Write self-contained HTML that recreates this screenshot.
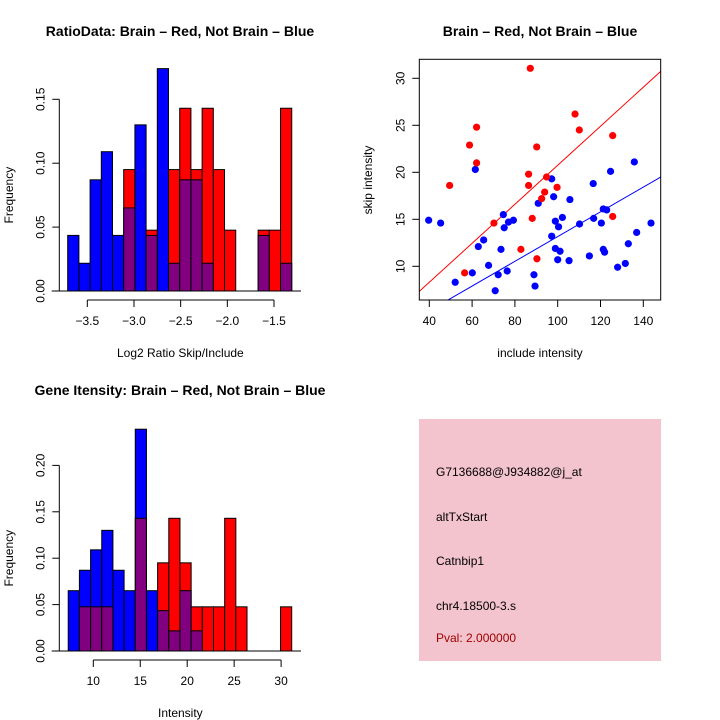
<!DOCTYPE html>
<html><head><meta charset="utf-8"><style>
body{margin:0;background:#fff}
svg{display:block;font-family:"Liberation Sans",sans-serif}
</style></head><body>
<svg id="s" width="720" height="720" viewBox="0 0 720 720">
<text x="180" y="36" text-anchor="middle" font-size="14" font-weight="bold">RatioData: Brain – Red, Not Brain – Blue</text>
<text x="540" y="36" text-anchor="middle" font-size="14" font-weight="bold">Brain – Red, Not Brain – Blue</text>
<text x="180" y="395" text-anchor="middle" font-size="14" font-weight="bold">Gene Itensity: Brain – Red, Not Brain – Blue</text>
<g id="h1"></g>
<g id="h2"></g>
<g id="sc"></g>
<g>
<rect x="419" y="419" width="242" height="242" fill="#f3c3ce"/>
<text x="436" y="476" font-size="12">G7136688@J934882@j_at</text>
<text x="436" y="521" font-size="12">altTxStart</text>
<text x="436" y="565" font-size="12">Catnbip1</text>
<text x="436" y="610" font-size="12">chr4.18500-3.s</text>
<text x="436" y="642" font-size="12" fill="#a00000">Pval: 2.000000</text>
</g>
</svg>
<script>
const NS="http://www.w3.org/2000/svg";
// Histogram 1 data
const h1Start=-3.71, h1Width=0.12;
const h1Blue=[0.0435,0.0217,0.087,0.109,0.0435,0.065,0.130,0.0435,0.174,0.0217,0.087,0.087,0.0217,0,0,0,0,0.0435,0,0.0217];
const h1Red=[0,0,0,0,0,0.095,0,0.0476,0,0.095,0.143,0.095,0.143,0.095,0.0476,0,0,0.0476,0.0476,0.143];
const h1XTicks=[-3.5,-3.0,-2.5,-2.0,-1.5];
const h1XLabels=["−3.5","−3.0","−2.5","−2.0","−1.5"];
const h1YTicks=[0,0.05,0.10,0.15];
const h1YLabels=["0.00","0.05","0.10","0.15"];
// Histogram 2 data
const h2Start=7.33, h2Width=1.19;
const h2Blue=[0.065,0.087,0.109,0.130,0.087,0.065,0.239,0.065,0.0435,0.0217,0.065,0.0217,0,0,0,0,0,0,0,0];
const h2Red=[0,0.0476,0.0476,0.0476,0,0,0.143,0,0.095,0.143,0.095,0.0476,0.0476,0.0476,0.143,0.0476,0,0,0,0.0476];
const h2XTicks=[10,15,20,25,30];
const h2XLabels=["10","15","20","25","30"];
const h2YTicks=[0,0.05,0.10,0.15,0.20];
const h2YLabels=["0.00","0.05","0.10","0.15","0.20"];
// Scatter data
const redX=[87.2,108.1,110.1,125.7,62.1,58.8,62.1,90.2,49.5,86.4,86.4,94.8,99.7,93.9,92.5,88.1,70.2,82.8,90.3,56.5,125.7];
const redY=[31.06,26.2,24.5,23.9,24.8,22.9,21.0,22.7,18.6,19.8,18.6,19.5,18.4,17.9,17.2,15.1,14.6,11.8,10.8,9.3,15.3];
const blueX=[39.7,45.3,52.1,60.1,61.5,62.9,65.4,67.7,70.8,72.2,73.5,74.6,75.0,76.4,77.0,79.3,88.9,89.4,90.9,97.2,97.2,98.1,98.9,98.9,100.4,100.0,101.1,102.2,105.3,105.7,110.2,114.8,116.6,116.8,120.4,121.3,121.3,121.9,122.9,124.7,128.0,131.6,133.0,135.8,136.9,143.6];
const blueY=[14.9,14.6,8.3,9.3,20.3,12.1,12.8,10.1,7.4,9.1,11.8,15.5,14.1,9.5,14.7,14.9,9.1,7.9,16.7,13.2,19.3,17.4,14.8,11.9,14.2,10.7,11.6,15.2,10.6,17.1,14.5,11.1,18.8,15.1,14.6,16.1,11.8,11.5,16.0,20.1,9.9,10.3,12.4,21.1,13.6,14.6];
const redSlope=0.2075, blueSlope=0.1316;
const scXTicks=[40,60,80,100,120,140];
const scYTicks=[10,15,20,25,30];

function el(parent,tag,attrs,txt){const e=document.createElementNS(NS,tag);for(const k in attrs)e.setAttribute(k,attrs[k]);if(txt!==undefined)e.textContent=txt;parent.appendChild(e);return e;}

function hist(gid,start,w,blue,red,xt,xl,yt,yl,xs,ys,xlab,yAxisX,xAxisY,baseL,baseR){
  const g=document.getElementById(gid);
  for(let i=0;i<blue.length;i++){
    const b=blue[i],r=red[i];
    const x0=xs(start+i*w),x1=xs(start+(i+1)*w);
    const hi=Math.max(b,r),lo=Math.min(b,r);
    if(hi>0){
      const r1=el(g,'rect',{x:x0,y:ys(hi),width:x1-x0,height:ys(0)-ys(hi),fill:b>=r?'#0000ff':'#ff0000',stroke:'#000','stroke-width':1});
      
      
    }
    if(lo>0){
      const r2=el(g,'rect',{x:x0,y:ys(lo),width:x1-x0,height:ys(0)-ys(lo),fill:'#800080',stroke:'#000','stroke-width':1});
      
      
    }
  }
  el(g,'line',{x1:baseL,x2:baseR,y1:ys(0),y2:ys(0),stroke:'#000'});
  el(g,'line',{x1:xs(xt[0]),x2:xs(xt[xt.length-1]),y1:xAxisY,y2:xAxisY,stroke:'#000'});
  xt.forEach((t,i)=>{el(g,'line',{x1:xs(t),x2:xs(t),y1:xAxisY,y2:xAxisY+7,stroke:'#000'});
    const tl=el(g,'text',{x:xs(t),y:xAxisY+25,'text-anchor':'middle','font-size':12},xl[i]);
    
    });
  el(g,'line',{x1:yAxisX,x2:yAxisX,y1:ys(yt[0]),y2:ys(yt[yt.length-1]),stroke:'#000'});
  yt.forEach((t,i)=>{el(g,'line',{x1:yAxisX,x2:yAxisX-7,y1:ys(t),y2:ys(t),stroke:'#000'});
    const tl=el(g,'text',{x:yAxisX-15,y:ys(t),'text-anchor':'middle','font-size':12,transform:`rotate(-90 ${yAxisX-15} ${ys(t)})`},yl[i]);
    
    });
  const xa=el(g,'text',{x:(baseL+baseR)/2+4,y:xAxisY+57,'text-anchor':'middle','font-size':12},xlab);
  
  
  const cy=(ys(0)+ys(yt[yt.length-1]))/2;
  const ya=el(g,'text',{x:13,y:cy,'text-anchor':'middle','font-size':12,transform:`rotate(-90 13 ${cy})`},'Frequency');
  
  
}
hist('h1',h1Start,h1Width,h1Blue,h1Red,h1XTicks,h1XLabels,h1YTicks,h1YLabels,
  v=>87.3+(v+3.5)*93.35, v=>291-v*1278,'Log2 Ratio Skip/Include',59.3,300,51.7,301);
hist('h2',h2Start,h2Width,h2Blue,h2Red,h2XTicks,h2XLabels,h2YTicks,h2YLabels,
  v=>93.3+(v-10)*9.39, v=>651-v*928,'Intensity',59.3,660,51.7,301);

// scatter
(function(){
  const g=document.getElementById('sc');
  const L=419.3,R=660.7,T=59.3,B=300;
  const xs=v=>429.3+(v-40)*2.14, ys=v=>266.3-(v-10)*9.4;
  const cp=el(g,'clipPath',{id:'clip'});el(cp,'rect',{x:L,y:T,width:R-L,height:B-T});
  const x0=(L-429.3)/2.14+40,x1=(R-429.3)/2.14+40;
  const rl=el(g,'line',{x1:xs(x0),y1:ys(redSlope*x0),x2:xs(x1),y2:ys(redSlope*x1),stroke:'#ff0000','clip-path':'url(#clip)'});
  
  
  const bl=el(g,'line',{x1:xs(x0),y1:ys(blueSlope*x0),x2:xs(x1),y2:ys(blueSlope*x1),stroke:'#0000ff','clip-path':'url(#clip)'});
  
  
  blueX.forEach((x,i)=>{const c=el(g,'circle',{cx:xs(x),cy:ys(blueY[i]),r:3.6,fill:'#0000ff'});
    
    });
  redX.forEach((x,i)=>{const c=el(g,'circle',{cx:xs(x),cy:ys(redY[i]),r:3.6,fill:'#ff0000'});
    
    });
  el(g,'rect',{x:L,y:T,width:R-L,height:B-T,fill:'none',stroke:'#000'});
  scXTicks.forEach(t=>{el(g,'line',{x1:xs(t),x2:xs(t),y1:B,y2:B+7,stroke:'#000'});
    const tl=el(g,'text',{x:xs(t),y:B+25,'text-anchor':'middle','font-size':12},String(t));
    
    });
  scYTicks.forEach(t=>{el(g,'line',{x1:L,x2:L-7,y1:ys(t),y2:ys(t),stroke:'#000'});
    const tl=el(g,'text',{x:L-15,y:ys(t),'text-anchor':'middle','font-size':12,transform:`rotate(-90 ${L-15} ${ys(t)})`},String(t));
    
    });
  const xa=el(g,'text',{x:540,y:357,'text-anchor':'middle','font-size':12},'include intensity');
  
  
  const ya=el(g,'text',{x:372,y:180,'text-anchor':'middle','font-size':12,transform:'rotate(-90 372 180)'},'skip intensity');
  
  
})();
</script>
</body></html>
